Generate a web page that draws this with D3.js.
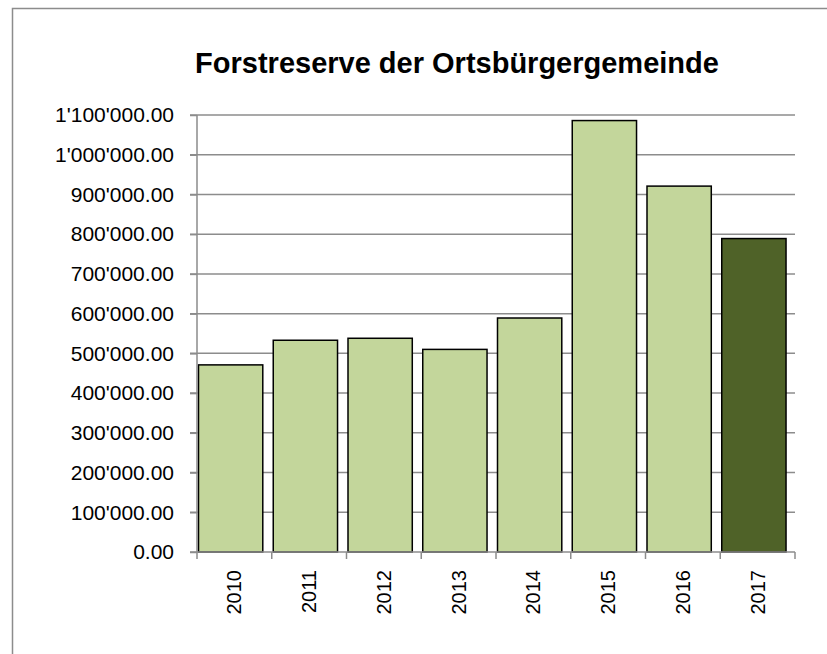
<!DOCTYPE html>
<html>
<head>
<meta charset="utf-8">
<script src="https://cdn.jsdelivr.net/npm/d3@7"></script>
<style>
  html, body { margin: 0; padding: 0; background: #fff; }
  svg { display: block; }
  text { font-family: "Liberation Sans", Arial, sans-serif; fill: #000; }
</style>
</head>
<body>
<svg id="chart" width="827" height="654"></svg>
<script>
const title = "Forstreserve der Ortsbürgergemeinde";
const years = ["2010", "2011", "2012", "2013", "2014", "2015", "2016", "2017"];
const values = [471000, 533000, 538000, 510000, 589000, 1086000, 921000, 789000];
const highlightYear = "2017";
const yTicks = [0, 100000, 200000, 300000, 400000, 500000, 600000, 700000, 800000, 900000, 1000000, 1100000];

const svg = d3.select("#chart");
const margin = { left: 197, right: 32, top: 115, bottom: 102 };
const W = 827, H = 654;
const x0 = margin.left, x1 = W - margin.right;
const yTop = margin.top, yBot = H - margin.bottom;

// outer chart border
svg.append("rect")
  .attr("x", 12.5).attr("y", 8.5)
  .attr("width", 900).attr("height", 800)
  .attr("fill", "#fff").attr("stroke", "#8c8c8c").attr("stroke-width", 1.5);

const x = d3.scaleBand().domain(years).range([x0, x1]).paddingInner(0).paddingOuter(0);
const y = d3.scaleLinear().domain([0, 1100000]).range([yBot, yTop]);

const fmt = v => d3.format(",.2f")(v).replace(/,/g, "'");

// gridlines
svg.append("g")
  .selectAll("line")
  .data(yTicks.filter(d => d > 0))
  .join("line")
  .attr("x1", x0 - 7).attr("x2", x1)
  .attr("y1", d => y(d)).attr("y2", d => y(d))
  .attr("stroke", "#8c8c8c").attr("stroke-width", 1.5);

// bars
const barW = x.bandwidth() * 0.86;
svg.append("g")
  .selectAll("rect")
  .data(years.map((yr, i) => ({ yr, v: values[i] })))
  .join("rect")
  .attr("x", d => x(d.yr) + 1.5)
  .attr("y", d => y(d.v))
  .attr("width", barW)
  .attr("height", d => yBot - y(d.v))
  .attr("fill", d => d.yr === highlightYear ? "#4F6228" : "#C3D69B")
  .attr("stroke", "#000").attr("stroke-width", 1.5);

// y axis
const yAxis = d3.axisLeft(y).tickValues(yTicks).tickFormat(fmt).tickSize(7).tickPadding(16);
const gy = svg.append("g").attr("transform", `translate(${x0},0)`).call(yAxis);
gy.select(".domain").attr("stroke", "#8c8c8c").attr("stroke-width", 1.5).attr("d", `M-7,${yBot}H0V${yTop}`);
gy.selectAll(".tick line").attr("stroke", "#8c8c8c").attr("stroke-width", 1.5);
gy.selectAll(".tick text").style("font-size", "21px").style("font-family", "'Liberation Sans', Arial, sans-serif").attr("fill", "#000");

// x axis
const gx = svg.append("g").attr("transform", `translate(0,${yBot})`);
gx.append("line").attr("x1", x0).attr("x2", x1).attr("y1", 0).attr("y2", 0)
  .attr("stroke", "#8c8c8c").attr("stroke-width", 1.5);
const bounds = years.map(d => x(d)).concat([x1]);
gx.selectAll("line.tk").data(bounds).join("line").attr("class", "tk")
  .attr("x1", d => d).attr("x2", d => d).attr("y1", 0).attr("y2", 7)
  .attr("stroke", "#8c8c8c").attr("stroke-width", 1.5);
gx.selectAll("text").data(years).join("text")
  .attr("transform", d => `translate(${x(d) + x.bandwidth() / 2 + 7},${18}) rotate(-90)`)
  .attr("text-anchor", "end")
  .style("font-size", "20px")
  .text(d => d);

// title
svg.append("text")
  .attr("x", 457).attr("y", 73)
  .attr("text-anchor", "middle")
  .style("font-size", "29px").style("font-weight", "bold")
  .text(title);
</script>
</body>
</html>
